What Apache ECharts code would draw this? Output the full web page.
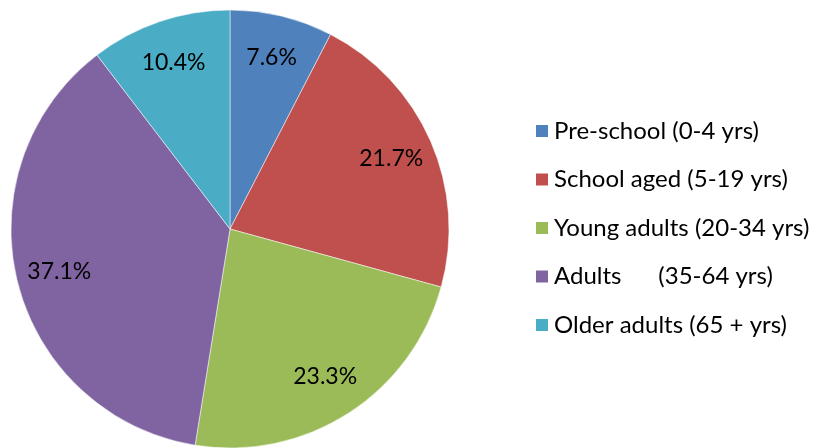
<!DOCTYPE html>
<html>
<head>
<meta charset="UTF-8">
<style>
	html, body { margin: 0; padding: 0; background: #fff; }
	#pie { width: 825px; height: 448px; }
</style>
</head>
<body>
	<div id="pie"></div>
</body>
<script src="https://cdn.jsdelivr.net/npm/echarts@6/dist/echarts.min.js"></script>
<script type="text/javascript">
var categories = ['Pre-school (0-4 yrs)', 'School aged (5-19 yrs)', 'Young adults (20-34 yrs)', 'Adults      (35-64 yrs)', 'Older adults (65 + yrs)'];
var shares = [7.6, 21.7, 23.3, 37.1, 10.4];
var colors = ['#4F81BD', '#C0504D', '#9BBB59', '#8064A2', '#4BACC6'];

var font = 'Lato, "Open Sans", sans-serif';

function slices(){
	var out = [];
	for (var i = 0; i < categories.length; i++) {
		out.push({ name: categories[i], value: shares[i] });
	}
	return out;
}

var myChart = echarts.init(document.getElementById('pie'));

var option = {
	animation: false,
	color: colors,
	legend: {
		orient: 'vertical',
		left: 534,
		top: 119,
		padding: 0,
		itemWidth: 14,
		itemHeight: 14,
		itemGap: 24.5,
		icon: 'rect',
		data: categories,
		textStyle: { fontFamily: font, fontSize: 24, lineHeight: 24, color: '#000' }
	},
	series: [{
		// the actual slices
		name: 'share',
		type: 'pie',
		center: [230, 229],
		radius: [0, 219],
		startAngle: 90,
		clockwise: true,
		silent: true,
		itemStyle: { borderColor: '#fff', borderWidth: 0.5 },
		label: { show: false },
		labelLine: { show: false },
		data: slices()
	}, {
		// transparent ring only to place the percent labels near the rim
		name: 'labels',
		type: 'pie',
		center: [230, 229],
		radius: [127, 219],
		startAngle: 90,
		clockwise: true,
		silent: true,
		itemStyle: { color: 'rgba(0,0,0,0)' },
		label: {
			show: true,
			position: 'inside',
			formatter: function(p){ return p.value.toFixed(1) + '%'; },
			fontFamily: font,
			fontSize: 23,
			color: '#000'
		},
		labelLine: { show: false },
		data: slices()
	}]
};

myChart.setOption(option);
</script>
</html>
